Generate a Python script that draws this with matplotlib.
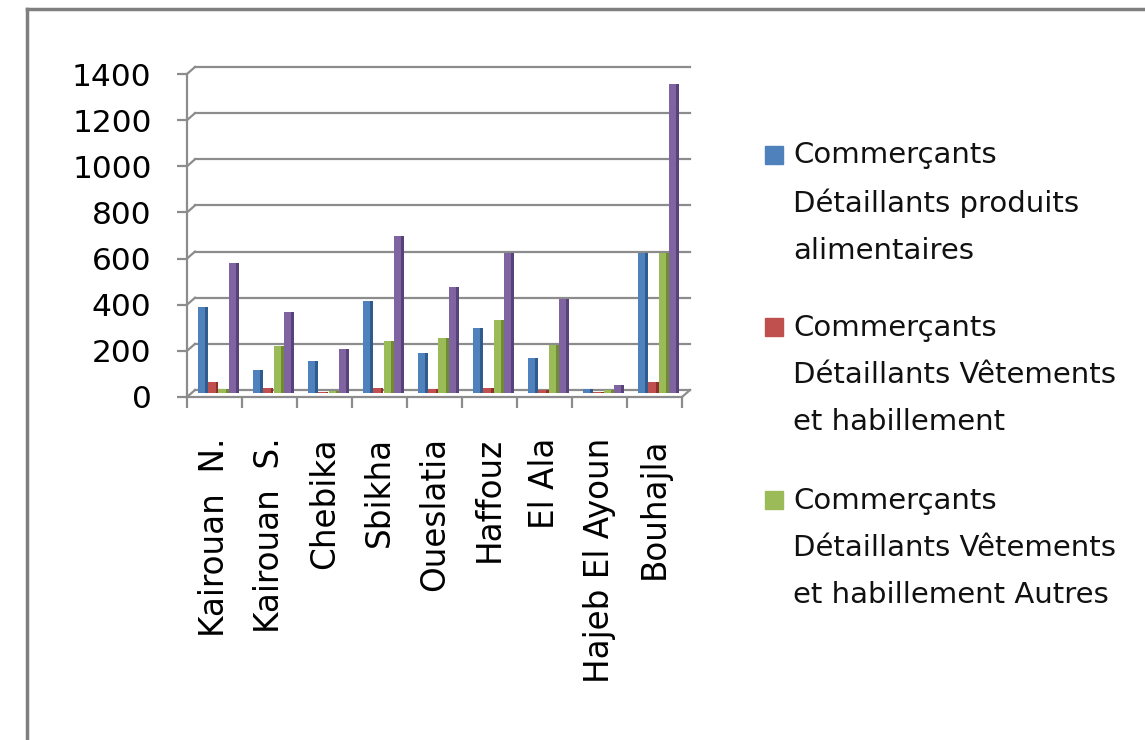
import matplotlib.pyplot as plt
import matplotlib.transforms as mtransforms
from matplotlib.lines import Line2D
from matplotlib.patches import Rectangle
import numpy as np

communes = ['Kairouan  N.', 'Kairouan  S.', 'Chebika', 'Sbikha', 'Oueslatia',
            'Haffouz', 'El Ala', 'Hajeb El Ayoun', 'Bouhajla']
alimentaires = [375, 100, 140, 400, 175, 285, 155, 18, 610]
vetements = [50, 22, 8, 22, 18, 22, 15, 5, 50]
vetements_autres = [18, 205, 11, 228, 240, 320, 210, 15, 610]
total = [565, 352, 192, 683, 460, 610, 408, 37, 1340]

series = [alimentaires, vetements, vetements_autres, total]
labels = ['Commerçants\nDétaillants produits\nalimentaires',
          'Commerçants\nDétaillants Vêtements\net habillement',
          'Commerçants\nDétaillants Vêtements\net habillement Autres']
colors = ['#4F81BD', '#C0504D', '#9BBB59', '#8064A2']
sides = ['#2f5b8f', '#8e2f2c', '#6f8c33', '#574279']
yticks = list(range(0, 1401, 200))

W, H = 1145, 740
fig = plt.figure(figsize=(W / 100, H / 100), dpi=100)
ax_l, ax_r, ax_t, ax_b = 187, 682, 74, 397
ax = fig.add_axes([ax_l / W, 1 - ax_b / H, (ax_r - ax_l) / W, (ax_b - ax_t) / H])
ax.set_xlim(-0.5, len(communes) - 0.5)
ax.set_ylim(0, 1400)
grid_col = '#8c8c8c'

# back wall gridlines (3D look)
ppu = (ax_b - ax_t) / 1400.0
dx, dy = 8, 7
for v in yticks:
    ax.plot([dx / (ax_r - ax_l), 1 + dx / (ax_r - ax_l)], [v + dy / ppu, v + dy / ppu],
            transform=ax.get_yaxis_transform(), color=grid_col, lw=1.6, clip_on=False, zorder=1)
    ax.plot([0, dx / (ax_r - ax_l)], [v, v + dy / ppu],
            transform=ax.get_yaxis_transform(), color=grid_col, lw=1.6, clip_on=False, zorder=1)
ax.plot([1, 1 + dx / (ax_r - ax_l)], [0, dy / ppu], transform=ax.get_yaxis_transform(),
        color=grid_col, lw=1.6, clip_on=False, zorder=1)

# bars, shifted to mid-depth
x = np.arange(len(communes))
w = 0.19
shift = mtransforms.offset_copy(ax.transData, fig=fig, x=4, y=3.5, units='dots')
for k, vals in enumerate(series):
    pos = x + (k - 1.5) * w
    bars = ax.bar(pos, vals, width=w, color=colors[k], zorder=3 + k, clip_on=False)
    side = ax.bar(pos + w * 0.36, vals, width=w * 0.28, color=sides[k], zorder=3 + k, clip_on=False)
    for p in list(bars) + list(side):
        p.set_transform(shift)

for s in ['top', 'right']:
    ax.spines[s].set_visible(False)
for s in ['left', 'bottom']:
    ax.spines[s].set_color(grid_col)
    ax.spines[s].set_linewidth(1.6)

ax.set_yticks(yticks)
ax.set_yticklabels([str(v) for v in yticks], fontsize=22.5, family='DejaVu Sans')
ax.tick_params(axis='y', direction='out', length=7.5, width=1.6, color=grid_col, pad=18)
ax.set_xticks(x)
ax.set_xticklabels(communes, rotation=90, fontsize=23.5, family='DejaVu Sans', va='top', ha='center')
ax.tick_params(axis='x', which='major', length=0, pad=29)
ax.set_xticks(np.arange(-0.5, len(communes), 1.0), minor=True)
ax.tick_params(axis='x', which='minor', direction='out', length=8, width=1.6, color=grid_col)

# legend (first three series, as shown)
first_lines = [155, 327, 500]
for k, lab in enumerate(labels):
    y0 = first_lines[k]
    fig.patches.append(Rectangle((765 / W, 1 - (y0 + 9) / H), 18 / W, 18 / H,
                                 transform=fig.transFigure, color=colors[k]))
    fig.text(793 / W, 1 - (y0 + 48) / H, lab, fontsize=21, family='DejaVu Sans',
             va='center', ha='left', linespacing=1.85, color='#111111')

# outer frame
fig.lines.append(Line2D([27 / W, 1], [1 - 9 / H, 1 - 9 / H], transform=fig.transFigure,
                        color='#7f7f7f', lw=2.5))
fig.lines.append(Line2D([27 / W, 27 / W], [0, 1 - 9 / H], transform=fig.transFigure,
                        color='#7f7f7f', lw=2.5))

fig.savefig('out.png', dpi=100)
